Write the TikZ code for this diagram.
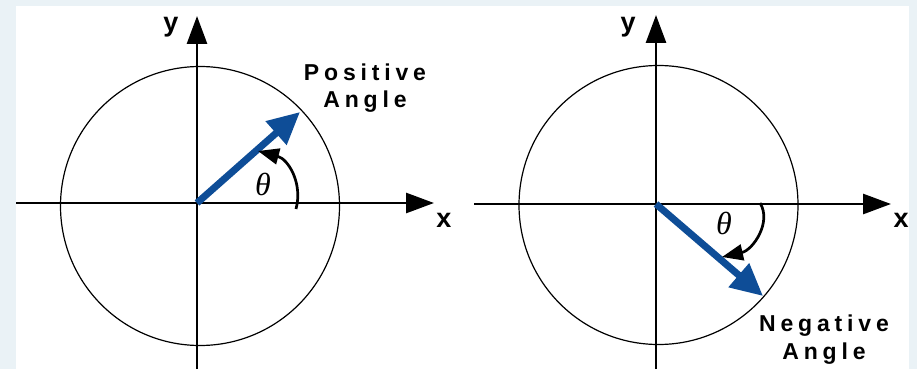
\documentclass[tikz,border=0pt]{standalone}
\usepackage{fontspec}
\setmainfont{Liberation Sans}
\newfontfamily\lblfont[LetterSpace=21]{Liberation Sans Bold}
\newfontfamily\axfont{Liberation Sans Bold}
\newfontfamily\thfont{Liberation Serif Italic}
\usetikzlibrary{arrows.meta}
\definecolor{bgframe}{HTML}{EAF2F6}
\definecolor{vblue}{HTML}{0E4D97}
\tikzset{
  axisline/.style={line width=2.8pt,black,-{Triangle[length=28pt,width=20pt]}},
  ring/.style={line width=1.2pt,black},
  vecline/.style={line width=7pt,vblue,-{Triangle[length=32pt,width=30pt]}},
  anglearc/.style={line width=2.7pt,black,-{Triangle[length=21pt,width=16pt]}},
  axlabel/.style={font=\axfont\fontsize{27}{27}\selectfont,inner sep=0pt,anchor=base},
  anglabel/.style={font=\lblfont\fontsize{23}{23}\selectfont,inner sep=0pt,anchor=base},
  thetalabel/.style={font=\thfont\fontsize{32}{32}\selectfont,inner sep=0pt}
}
\begin{document}
\begin{tikzpicture}[x=1pt,y=-1pt]
\useasboundingbox (0,0) rectangle (917,369);
\fill[bgframe] (0,0) rectangle (917,369);
\fill[white] (16,6) rectangle (909,369);
% ---------- left diagram ----------
\coordinate (O1) at (197,203);
\coordinate (xl1) at (16,203);
\coordinate (xr1) at (434,203);
\coordinate (yb1) at (197,369);
\coordinate (yt1) at (197,16);
\coordinate (P1) at (300,112);
\coordinate (a1s) at (296,209);
\coordinate (a1e) at (258,151);
\draw[ring] (200,206) circle[radius=139.5pt];
\draw[axisline] (xl1) -- (xr1);
\draw[axisline] (yb1) -- (yt1);
\draw[vecline] (O1) -- (P1);
\draw[anglearc] (a1s) .. controls (303,183) and (288,159) .. (a1e);
\node[thetalabel] (th1) at (263,184) {θ};
\node[axlabel] (ylab1) at (171,32) {y};
\node[axlabel] (xlab1) at (444,227) {x};
\node[anglabel] (pos1) at (365,80) {Positive};
\node[anglabel] (ang1) at (365,107) {Angle};
% ---------- right diagram ----------
\coordinate (O2) at (656,204);
\coordinate (xl2) at (474,204);
\coordinate (xr2) at (891,204);
\coordinate (yb2) at (656,369);
\coordinate (yt2) at (656,15);
\coordinate (P2) at (763,296);
\coordinate (a2s) at (760,203);
\coordinate (a2e) at (722,257);
\draw[ring] (658.5,205) circle[radius=139.5pt];
\draw[axisline] (xl2) -- (xr2);
\draw[axisline] (yb2) -- (yt2);
\draw[vecline] (O2) -- (P2);
\draw[anglearc] (a2s) .. controls (772,222) and (753,250) .. (a2e);
\node[thetalabel] (th2) at (724,223) {θ};
\node[axlabel] (ylab2) at (628,32) {y};
\node[axlabel] (xlab2) at (901,227) {x};
\node[anglabel] (neg2) at (824,331) {Negative};
\node[anglabel] (ang2) at (824,359) {Angle};
\end{tikzpicture}
\end{document}
